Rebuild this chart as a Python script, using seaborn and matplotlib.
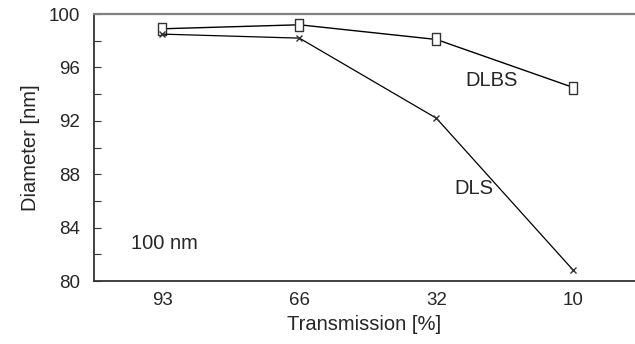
import numpy as np
import pandas as pd
import matplotlib
matplotlib.use("Agg")
import matplotlib.pyplot as plt
from matplotlib.path import Path
from matplotlib.ticker import FixedLocator, MultipleLocator
import seaborn as sns

# values
transmission = ["93", "66", "32", "10"]
dlbs_diameter = [98.9, 99.2, 98.1, 94.5]
dls_diameter = [98.5, 98.2, 92.2, 80.8]

sns.set_style("white")
plt.rcParams["font.family"] = ["Liberation Sans", "DejaVu Sans"]

df = pd.DataFrame({
    "pos": list(range(len(transmission))) * 2,
    "diameter": dlbs_diameter + dls_diameter,
    "method": ["DLBS"] * len(transmission) + ["DLS"] * len(transmission),
})

# tall hollow rectangle for the DLBS points
rect = Path([(-0.3, -0.5), (0.3, -0.5), (0.3, 0.5), (-0.3, 0.5), (-0.3, -0.5)],
            [Path.MOVETO, Path.LINETO, Path.LINETO, Path.LINETO, Path.CLOSEPOLY])

fig = plt.figure(figsize=(6.35, 3.44), dpi=100)
ax = fig.add_axes([0.148, 0.183, 0.852, 0.776])

sns.lineplot(data=df[df.method == "DLBS"], x="pos", y="diameter", ax=ax,
             color="black", linewidth=1.0, marker=rect, markersize=9,
             markerfacecolor="white", markeredgecolor="#333333", markeredgewidth=1.0)
sns.lineplot(data=df[df.method == "DLS"], x="pos", y="diameter", ax=ax,
             color="black", linewidth=0.9, marker="x", markersize=5,
             markeredgecolor="#333333", markeredgewidth=1.0)

ax.set_xlim(-0.5, 3.45)
ax.set_ylim(80, 100)
ax.set_xticks(range(len(transmission)))
ax.set_xticklabels(transmission)
ax.xaxis.set_minor_locator(FixedLocator([0.49, 1.47, 2.45]))
ax.yaxis.set_major_locator(MultipleLocator(4))
ax.yaxis.set_minor_locator(MultipleLocator(2))
ax.tick_params(axis="x", which="major", length=0, labelsize=13.5, pad=8)
ax.tick_params(axis="x", which="minor", direction="in", length=5, width=0.8, color="#333333")
ax.tick_params(axis="y", which="both", direction="in", length=5, width=0.8,
               color="#333333", labelsize=13.5, left=True)
ax.tick_params(axis="y", which="major", pad=10)

ax.set_xlabel("Transmission [%]", fontsize=14.5, labelpad=4)
ax.set_ylabel("Diameter [nm]", fontsize=14.5, labelpad=6)

for side in ["left", "bottom"]:
    ax.spines[side].set_color("#333333")
    ax.spines[side].set_linewidth(1.3)
ax.spines["top"].set_color("#808080")
ax.spines["top"].set_linewidth(1.6)
ax.spines["right"].set_visible(False)

ax.text(2.21, 95.05, "DLBS", fontsize=14.5, ha="left", va="center")
ax.text(2.13, 86.9, "DLS", fontsize=14.5, ha="left", va="center")
ax.text(-0.23, 82.8, "100 nm", fontsize=14.5, ha="left", va="center")

fig.savefig("out.png", dpi=100)
